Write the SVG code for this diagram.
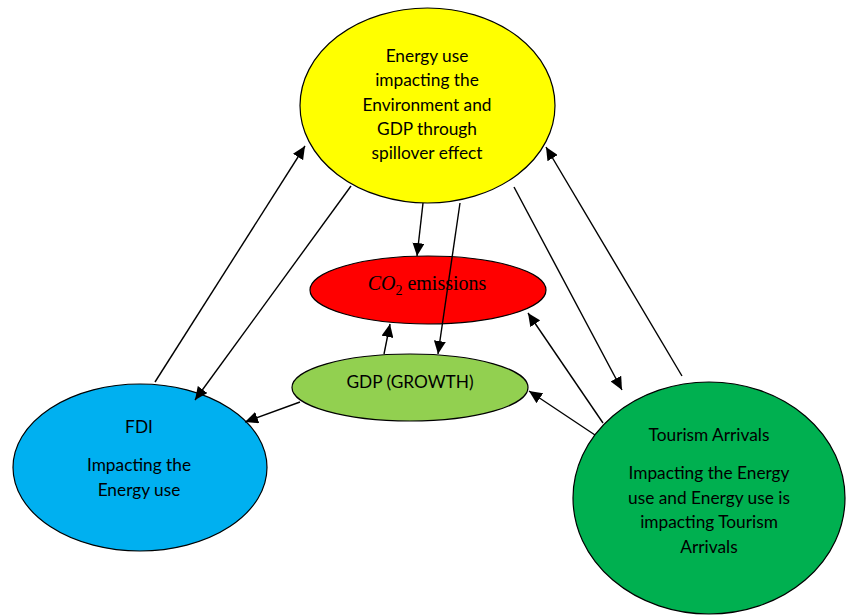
<svg xmlns="http://www.w3.org/2000/svg" width="846" height="615" viewBox="0 0 846 615">
<defs>
<style>
.node{stroke:#000;stroke-width:1.2}
.t{font-family:Lato,"Liberation Sans",sans-serif;font-size:17.3px;fill:#000;text-anchor:middle}
.c{stroke:#000;stroke-width:1.4;fill:none;marker-end:url(#ah)}
</style>
<marker id="ah" markerUnits="userSpaceOnUse" markerWidth="14" markerHeight="12" viewBox="0 0 14 12" refX="13" refY="6" orient="auto">
<path d="M0,0 L13,6 L0,12 Z" fill="#000"/>
</marker>
</defs>
<rect width="846" height="615" fill="#fff"/>
<g id="energy">
<ellipse class="node" cx="427.5" cy="105.5" rx="127.5" ry="97.5" fill="#ffff00"/>
<text class="t" x="427" y="62">Energy use</text>
<text class="t" x="427" y="86">impacting the</text>
<text class="t" x="427" y="111">Environment and</text>
<text class="t" x="427" y="135">GDP through</text>
<text class="t" x="427" y="159">spillover effect</text>
</g>
<g id="co2">
<ellipse class="node" cx="428" cy="290" rx="118" ry="34" fill="#ff0000"/>
<text x="427" y="290" style="font-family:'Liberation Serif',serif;font-size:20px;fill:#000;text-anchor:middle"><tspan font-style="italic">CO</tspan><tspan font-size="14" dy="5">2</tspan><tspan dy="-5"> emissions</tspan></text>
</g>
<g id="gdp">
<ellipse class="node" cx="410" cy="387.5" rx="118" ry="33.5" fill="#92d050"/>
<text class="t" x="410" y="388">GDP (GROWTH)</text>
</g>
<g id="fdi">
<ellipse class="node" cx="140" cy="467.5" rx="127" ry="83.5" fill="#00b0f0"/>
<text class="t" x="139" y="433">FDI</text>
<text class="t" x="139" y="471">Impacting the</text>
<text class="t" x="139" y="496">Energy use</text>
</g>
<g id="tourism">
<ellipse class="node" cx="709" cy="498" rx="136" ry="116" fill="#00b050"/>
<text class="t" x="709" y="441">Tourism Arrivals</text>
<text class="t" x="709" y="479">Impacting the Energy</text>
<text class="t" x="709" y="504">use and Energy use is</text>
<text class="t" x="709" y="528">impacting Tourism</text>
<text class="t" x="709" y="553">Arrivals</text>
</g>
<g id="connectors">
<line class="c" x1="155" y1="382" x2="305" y2="146"/>
<line class="c" x1="351" y1="186" x2="195" y2="400"/>
<line class="c" x1="300" y1="402" x2="245" y2="422"/>
<line class="c" x1="423" y1="203" x2="417" y2="256"/>
<line class="c" x1="460" y1="203" x2="438" y2="354"/>
<line class="c" x1="384" y1="354" x2="390" y2="324"/>
<line class="c" x1="603" y1="423" x2="528" y2="313"/>
<line class="c" x1="595" y1="435" x2="529" y2="391"/>
<line class="c" x1="514" y1="187" x2="622" y2="390"/>
<line class="c" x1="682" y1="376" x2="546" y2="147"/>
</g>
</svg>
